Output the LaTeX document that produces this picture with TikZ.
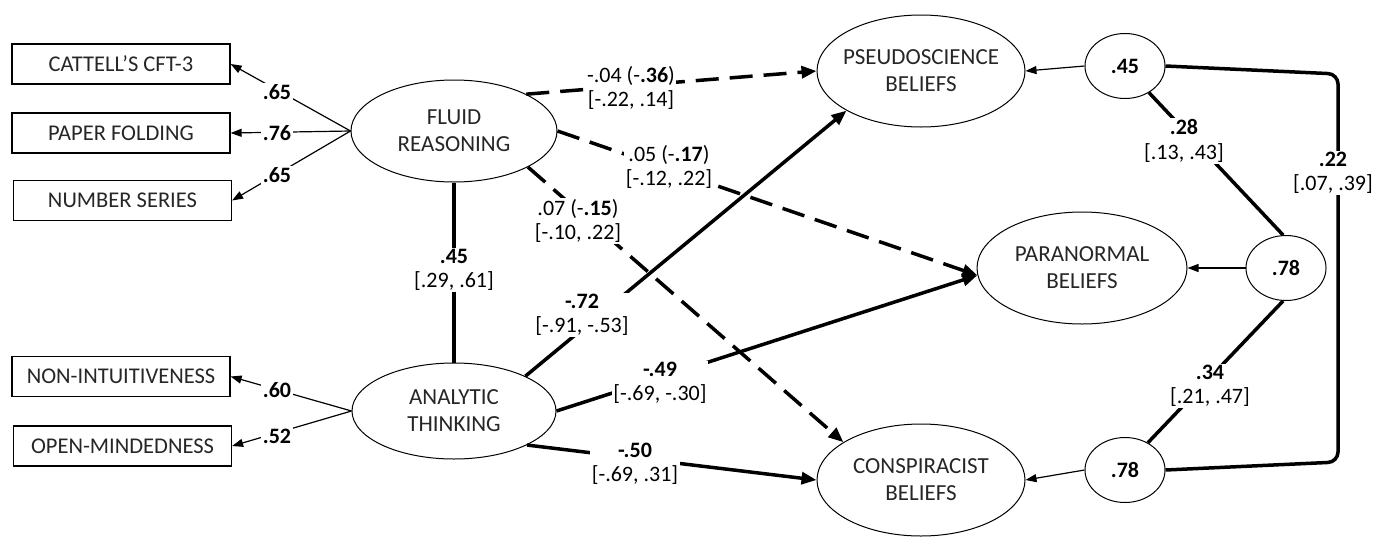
\documentclass[tikz,border=0pt]{standalone}
\usepackage{fontspec}
\setmainfont{Carlito}
\usetikzlibrary{shapes.geometric,arrows.meta}
\begin{document}
\begin{tikzpicture}[x=1pt,y=-1pt,
  box/.style={draw, line width=1.2pt, minimum width=218pt, minimum height=40pt, inner sep=0pt, text=black!85, font=\fontsize{22.5}{26}\selectfont},
  lat/.style={draw, ellipse, line width=1pt, inner sep=0pt},
  lattext/.style={text=black!85, align=center, font=\fontsize{23}{27}\selectfont},
  res/.style={draw, ellipse, line width=1pt, minimum width=80pt, minimum height=65pt, inner sep=0pt, font=\fontsize{22}{25}\selectfont\bfseries},
  thinarr/.style={line width=1.2pt, -{Triangle[length=11pt,width=8pt]}},
  thickarr/.style={line width=3.5pt, -{Triangle[length=15pt,width=12pt]}},
  dasharr/.style={thickarr, dash pattern=on 23pt off 11pt},
  corr/.style={line width=3.5pt},
  lbl/.style={fill=white, inner sep=1.5pt, align=center, font=\fontsize{22}{24.5}\selectfont},
  boldlbl/.style={lbl, font=\fontsize{22}{24.5}\selectfont\bfseries},
]
\useasboundingbox (0,0) rectangle (1386,536);

% indicator boxes
\node[box] (cft) at (121,64) {CATTELL’S CFT-3};
\node[box] (paper) at (121,133) {PAPER FOLDING};
\node[box] (number) at (122.5,200.5) {NUMBER SERIES};
\node[box] (nonint) at (121,376.5) {NON-INTUITIVENESS};
\node[box] (open) at (122.5,446) {OPEN-MINDEDNESS};

% latent variables
\node[lat, minimum width=206pt, minimum height=102pt] (fluid) at (454,131) {};
\node[lattext] (fluidt) at (fluid.center) {FLUID\\REASONING};
\node[lat, minimum width=204pt, minimum height=96pt] (analytic) at (454,411) {};
\node[lattext] (analytict) at (analytic.center) {ANALYTIC\\THINKING};
\node[lat, minimum width=208pt, minimum height=112pt] (pseudo) at (921,71) {};
\node[lattext] (pseudot) at (pseudo.center) {PSEUDOSCIENCE\\BELIEFS};
\node[lat, minimum width=210pt, minimum height=112pt] (para) at (1082,268) {};
\node[lattext] (parat) at (para.center) {PARANORMAL\\BELIEFS};
\node[lat, minimum width=208pt, minimum height=112pt] (consp) at (921,480) {};
\node[lattext] (conspt) at (consp.center) {CONSPIRACIST\\BELIEFS};

% residuals
\node[res] (r1) at (1125,66) {.45};
\node[res] (r2) at (1286,268) {.78};
\node[res] (r3) at (1125,470) {.78};

% loadings
\draw[thinarr] (fluid.west) -- (cft.east);
\draw[thinarr] (fluid.west) -- (paper.east);
\draw[thinarr] (fluid.west) -- (number.east);
\draw[thinarr] (analytic.west) -- (nonint.east);
\draw[thinarr] (analytic.west) -- (open.east);

% correlation fluid-analytic
\draw[corr] (fluid.south) -- (analytic.north);

% structural paths
\draw[dasharr] (fluid.27) -- (pseudo.west);
\draw[dasharr] (fluid.east) -- (para.184);
\draw[dasharr] (fluid.-26) -- (consp.154);
\draw[thickarr] (analytic.26) -- (pseudo.208);
\draw[thickarr] (analytic.east) -- (para.184);
\draw[thickarr] (analytic.-25) -- (consp.west);

% residual arrows
\draw[thinarr] (r1.west) -- (pseudo.east);
\draw[thinarr] (r2.west) -- (para.east);
\draw[thinarr] (r3.west) -- (consp.east);

% residual correlations
\draw[corr] (r1.-48) -- (r2.95);
\draw[corr] (r2.-95) -- (r3.50);
\coordinate (brtop) at (1338,74);
\coordinate (brbot) at (1338,462);
\draw[corr, rounded corners=10pt] (r1.east) -- (brtop) -- (brbot) -- (r3.east);

% labels
\node[boldlbl] (l1) at (277,92) {.65};
\node[boldlbl] (l2) at (277,133) {.76};
\node[boldlbl] (l3) at (277,175) {.65};
\node[boldlbl] (l4) at (277,390) {.60};
\node[boldlbl] (l5) at (277,436) {.52};

\node[lbl] (c1) at (454,270) {\textbf{.45}\\{[.29, .61]}};
\node[lbl] (p1) at (631,88) {-.04 (-\textbf{.36})\\{[-.22, .14]}};
\node[lbl] (p2) at (669,167) {.05 (-\textbf{.17})\\{[-.12, .22]}};
\node[lbl] (p3) at (578,221) {.07 (-\textbf{.15})\\{[-.10, .22]}};
\node[lbl] (p4) at (582,315) {\textbf{-.72}\\{[-.91, -.53]}};
\node[lbl] (p5) at (660,383) {\textbf{-.49}\\{[-.69, -.30]}};
\node[lbl] (p6) at (635,464) {\textbf{-.50}\\{[-.69, .31]}};
\node[lbl] (c2) at (1184,141) {\textbf{.28}\\{[.13, .43]}};
\node[lbl] (c3) at (1210,386) {\textbf{.34}\\{[.21, .47]}};
\node[lbl] (c4) at (1333,173) {\textbf{.22}\\{[.07, .39]}};
\end{tikzpicture}
\end{document}
